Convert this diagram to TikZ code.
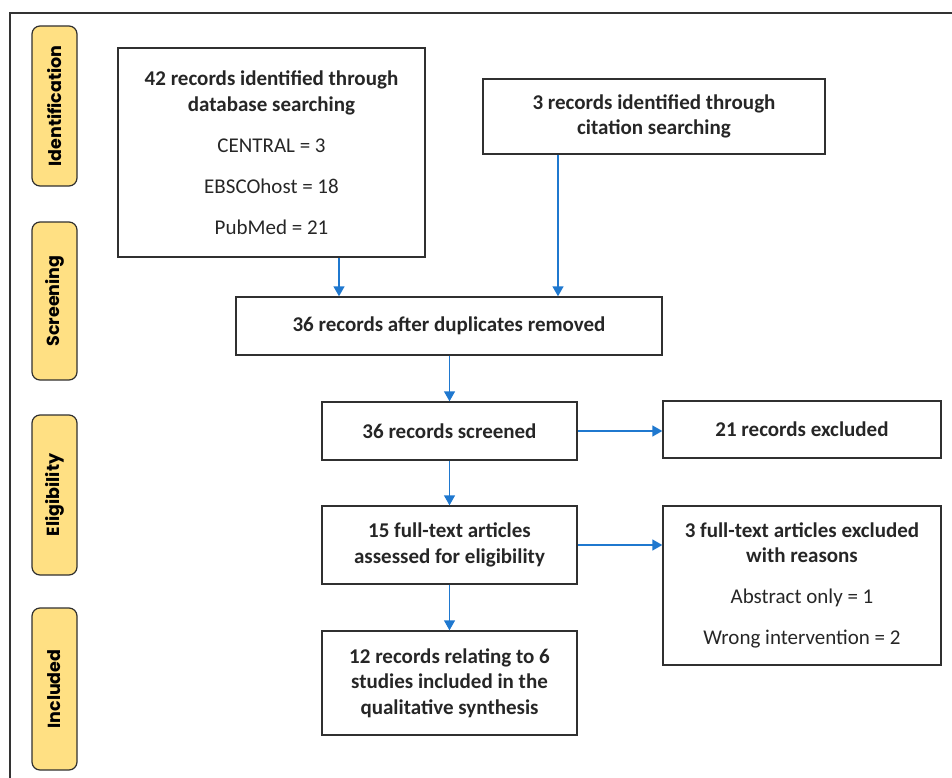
\documentclass[tikz,border=0pt]{standalone}
\usepackage{fontspec}
\setmainfont{Carlito}
\newfontfamily\stagefont{Poppins}
\usepackage{xcolor}
\usetikzlibrary{positioning,arrows.meta,calc}

\definecolor{stageyellow}{HTML}{FFE083}
\definecolor{arrowblue}{HTML}{1F78CF}
\definecolor{boxline}{HTML}{303030}

\begin{document}
\begin{tikzpicture}[
    x=1pt, y=-1pt,
    box/.style={draw=boxline, line width=1.4pt, align=center, inner sep=0pt,
                font=\fontsize{21}{25.5}\selectfont, text=black!85},
    stage/.style={draw=boxline, line width=1.2pt, rounded corners=8pt, fill=stageyellow,
                  rotate=90, minimum height=45pt, inner sep=0pt,
                  font=\stagefont\bfseries\fontsize{17.5}{20}\selectfont},
    arr/.style={-{Triangle[length=10pt,width=11pt]}, line width=1.4pt, draw=arrowblue}
]
    \useasboundingbox (0,0) rectangle (952,778);

    % frame
    \draw[line width=1.5pt, draw=black!80] (10,778) -- (10,13) -- (952,13);

    % Stages
    \node[stage, minimum width=160pt] (ident) at (54.5,106) {Identification};
    \node[stage, minimum width=158pt] (screen) at (54.5,301) {Screening};
    \node[stage, minimum width=160pt] (elig) at (54.5,495) {Eligibility};
    \node[stage, minimum width=162pt] (incl) at (54.5,689) {Included};

    % Identification
    \node[box, minimum width=307pt, minimum height=209pt] (db) at (271.5,152.5)
        {\textbf{42 records identified through}\\\textbf{database searching}\\[15.5pt]
         CENTRAL = 3\\[15.5pt]EBSCOhost = 18\\[15.5pt]PubMed = 21};
    \node[box, minimum width=342pt, minimum height=75pt] (cit) at (654,116.5)
        {\textbf{3 records identified through}\\\textbf{citation searching}};

    % Screening
    \node[box, minimum width=426pt, minimum height=58pt] (dup) at (449,326)
        {\textbf{36 records after duplicates removed}};
    \node[box, minimum width=255pt, minimum height=58pt] (scr) at (449.5,431)
        {\textbf{36 records screened}};
    \node[box, minimum width=278pt, minimum height=57pt] (excl) at (802,429.5)
        {\textbf{21 records excluded}};

    % Eligibility
    \node[box, minimum width=255pt, minimum height=78pt] (full) at (449.5,545)
        {\textbf{15 full-text articles}\\\textbf{assessed for eligibility}};
    \node[box, minimum width=278pt, minimum height=159pt] (fullexcl) at (802,585.5)
        {\textbf{3 full-text articles excluded}\\\textbf{with reasons}\\[15.5pt]
         Abstract only = 1\\[15.5pt]Wrong intervention = 2};

    % Included
    \node[box, minimum width=255pt, minimum height=104pt] (inc) at (449.5,683)
        {\textbf{12 records relating to 6}\\\textbf{studies included in the}\\\textbf{qualitative synthesis}};

    % Connections
    \draw[arr] ([xshift=67.5pt]db.south) -- ([xshift=67.5pt]db.south |- dup.north);
    \draw[arr] ([xshift=-96pt]cit.south) -- ([xshift=-96pt]cit.south |- dup.north);
    \draw[arr] (dup.south -| scr.north) -- (scr.north);
    \draw[arr] (scr.east) -- (excl.west |- scr.east);
    \draw[arr] (scr) -- (full);
    \draw[arr] (full.east) -- (fullexcl.west |- full.east);
    \draw[arr] (full) -- (inc);

\end{tikzpicture}
\end{document}
